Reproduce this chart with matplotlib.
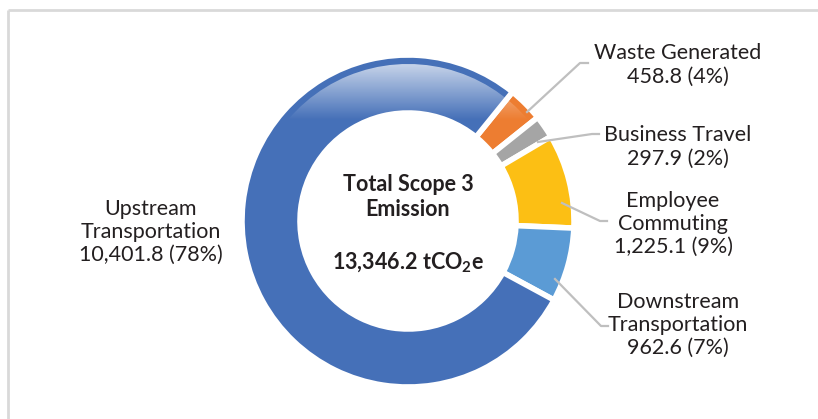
import numpy as np
import matplotlib
matplotlib.use('Agg')
import matplotlib.pyplot as plt
from matplotlib.patches import Wedge

plt.rcParams['font.family'] = ['Lato', 'DejaVu Sans']
plt.rcParams['mathtext.fontset'] = 'custom'
plt.rcParams['mathtext.bf'] = 'Lato:bold'
plt.rcParams['mathtext.rm'] = 'Lato'

# ====== data ======
categories = ['Waste Generated', 'Business Travel', 'Employee\nCommuting',
              'Downstream\nTransportation', 'Upstream\nTransportation']
values = [458.8, 297.9, 1225.1, 962.6, 10401.8]
percent_labels = ['4%', '2%', '9%', '7%', '78%']
colors = ['#ed7d31', '#a5a5a5', '#fcbf14', '#5b9bd5', '#4570b8']
total = sum(values)

W, H = 818, 419
cx, cy = 408, H - 221
R, R_in = 166, 108

fig = plt.figure(figsize=(W / 100, H / 100), dpi=100)
ax = fig.add_axes([0, 0, 1, 1])

wedges, _ = ax.pie(values, colors=colors, startangle=51, counterclock=False,
                   radius=R, center=(cx, cy),
                   wedgeprops=dict(width=R - R_in, edgecolor='white', linewidth=4))

# glossy highlight on top of the big blue ring
grad = np.zeros((100, 1, 4))
grad[..., :3] = 1.0
grad[:, 0, 3] = np.linspace(0.72, 0.0, 100)
im = ax.imshow(grad, extent=(230, 590, H - 120, H - 62), aspect='auto', zorder=3)
clip = Wedge((cx, cy), R - 9, 40, 185, width=R - 9 - R_in, transform=ax.transData)
im.set_clip_path(clip)

# frame
ax.plot([8, W], [H - 10, H - 10], color='#d9d9d9', lw=2, solid_capstyle='butt')
ax.plot([8, 8], [H - 10, 0], color='#d9d9d9', lw=2, solid_capstyle='butt')

# centre text
txt = '#231f20'
ax.text(cx, H - 197, 'Total Scope 3\nEmission', ha='center', va='center',
        fontsize=15.5, fontweight='bold', color=txt, linespacing=1.25)
ax.text(cx, H - 263, f'{total:,.1f} tCO$_{{\\mathbf{{2}}}}$e', ha='center', va='center',
        fontsize=15.5, fontweight='bold', color=txt)

# labels: (x centre, y centre in px from top)
label_pos = [(678, 65), (678, 147), (673, 224), (678, 325), (151, 232)]
for name, v, p, (lx, ly) in zip(categories, values, percent_labels, label_pos):
    ax.text(lx, H - ly, f'{name}\n{v:,.1f} ({p})', ha='center', va='center',
            fontsize=15.5, color=txt, linespacing=1.2)

# leader lines
leaders = [
    [(527, 112), (580, 63), (588, 63)],
    [(538, 142), (592, 134), (599, 134)],
    [(562, 203), (600, 221), (607, 221)],
    [(555, 279), (601, 326), (608, 326)],
]
for pts in leaders:
    xs = [p[0] for p in pts]
    ys = [H - p[1] for p in pts]
    ax.plot(xs, ys, color='#bfbfbf', lw=1.6, zorder=4)

ax.set_xlim(0, W)
ax.set_ylim(0, H)
ax.set_aspect('auto')
ax.axis('off')

fig.savefig('out.png', dpi=100, facecolor='white')
